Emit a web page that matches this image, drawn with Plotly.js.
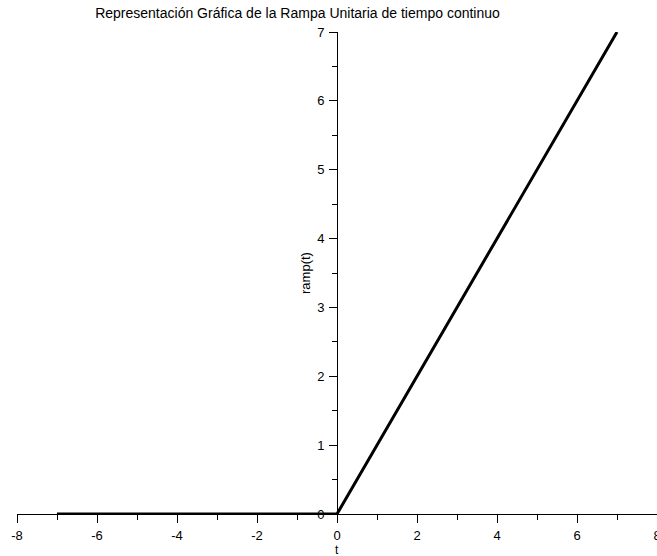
<!DOCTYPE html>
<html>
<head>
<meta charset="utf-8">
<script src="https://cdn.plot.ly/plotly-3.0.1.min.js"></script>
<style>
  html, body { margin: 0; padding: 0; background: #fff; }
  #chart { width: 657px; height: 556px; }
</style>
</head>
<body>
<div id="chart"></div>
<script>
// Unit ramp r(t) = t for t >= 0, 0 otherwise, sampled at its breakpoints
const tValues = [-7, 0, 7];
const rampValues = [0, 0, 7];

const xTickVals = [-8, -6, -4, -2, 0, 2, 4, 6, 8];
const yTickVals = [0, 1, 2, 3, 4, 5, 6, 7];

const titleText = 'Representación Gráfica de la Rampa Unitaria de tiempo continuo';
const xTitle = 't';
const yTitle = 'ramp(t)';

const fontFamily = 'Liberation Sans, Arial, sans-serif';

const trace = {
  x: tValues,
  y: rampValues,
  type: 'scatter',
  mode: 'lines',
  line: { color: '#000', width: 3 },
  hoverinfo: 'skip'
};

const layout = {
  width: 657,
  height: 556,
  margin: { l: 17, r: 0, t: 32, b: 42 },
  paper_bgcolor: '#fff',
  plot_bgcolor: '#fff',
  showlegend: false,
  font: { family: fontFamily, size: 13, color: '#000' },
  title: {
    text: titleText,
    font: { family: fontFamily, size: 14, color: '#000' },
    x: 297.5 / 657, xref: 'container', xanchor: 'center',
    y: 1 - 13 / 556, yref: 'container', yanchor: 'middle'
  },
  xaxis: {
    range: [-8.0001, 8.0001],
    tickvals: xTickVals,
    ticktext: xTickVals.map(String),
    ticklabeloverflow: 'allow',
    ticklabelstandoff: 1,
    showgrid: false,
    zeroline: false,
    showline: true,
    linecolor: '#000',
    linewidth: 1,
    ticks: 'outside',
    ticklen: 8,
    tickcolor: '#000',
    tickfont: { family: fontFamily, size: 13, color: '#000' },
    minor: { dtick: 1, ticks: 'outside', ticklen: 5, tickcolor: '#000', showgrid: false }
  },
  yaxis: {
    range: [0, 7],
    anchor: 'free',
    position: 0.5,
    tickvals: yTickVals,
    ticktext: yTickVals.map(String),
    ticklabelstandoff: 2,
    showgrid: false,
    zeroline: false,
    showline: true,
    linecolor: '#000',
    linewidth: 1,
    ticks: 'outside',
    ticklen: 8,
    tickcolor: '#000',
    tickfont: { family: fontFamily, size: 13, color: '#000' },
    minor: { dtick: 0.5, ticks: 'outside', ticklen: 5, tickcolor: '#000', showgrid: false },
    title: { text: yTitle, font: { family: fontFamily, size: 13, color: '#000' }, standoff: 2 }
  },
  // horizontal-axis name, set just under the tick labels at t = 0
  annotations: [{
    text: xTitle,
    xref: 'x', x: 0,
    yref: 'paper', y: -36 / 482,
    xanchor: 'center', yanchor: 'middle',
    showarrow: false,
    font: { family: fontFamily, size: 12, color: '#000' }
  }]
};

Plotly.newPlot('chart', [trace], layout, { displayModeBar: false, staticPlot: true });
</script>
</body>
</html>
